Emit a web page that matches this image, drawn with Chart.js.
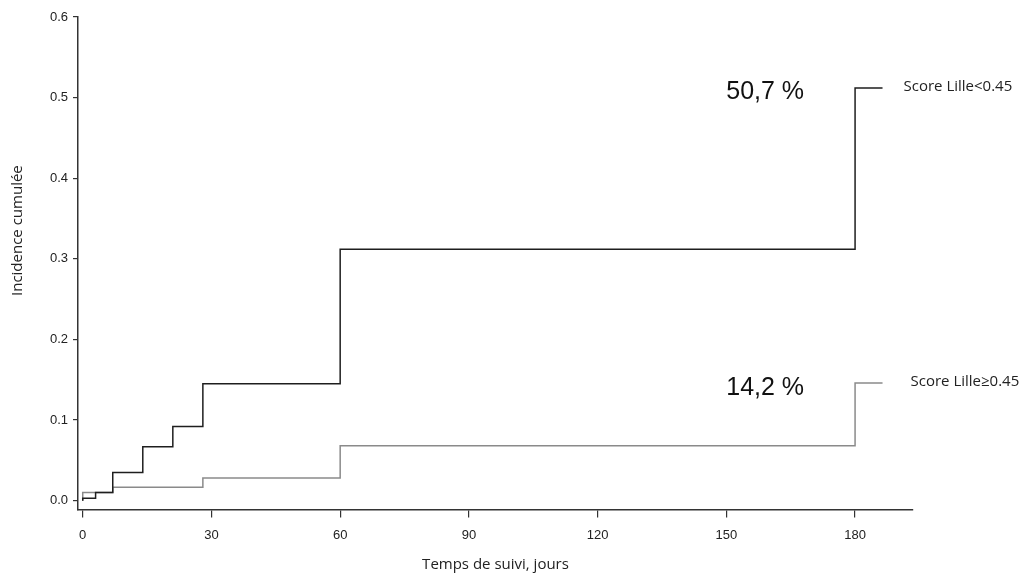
<!DOCTYPE html>
<html>
<head>
<meta charset="utf-8">
<script src="https://cdn.jsdelivr.net/npm/chart.js@4"></script>
<style>
  html, body { margin: 0; padding: 0; background: #fff; }
  #wrap { width: 1025px; height: 577px; }
</style>
</head>
<body>
<div id="wrap"><canvas id="incidenceChart" width="1025" height="577"></canvas></div>
<script>
// Cumulative incidence by Lille score (step curves)
const lowDays = [0, 0, 3, 7, 14, 21, 28, 60, 180, 186.4];
const lowValues = [0, 0.003, 0.010, 0.035, 0.067, 0.092, 0.145, 0.312, 0.512, 0.512];
const highDays = [0, 0, 7, 28, 60, 180, 186.4];
const highValues = [0, 0.010, 0.0165, 0.028, 0.068, 0.146, 0.146];

const seriesNames = ['Score Lille<0.45', 'Score Lille\u22650.45'];
const percentLabels = ['50,7 %', '14,2 %'];
const xTicks = [0, 30, 60, 90, 120, 150, 180];
const yTicks = [0, 0.1, 0.2, 0.3, 0.4, 0.5, 0.6];
const yTitle = 'Incidence cumulée';

function toPoints(xs, ys) {
  return xs.map((x, i) => ({ x: x, y: ys[i] }));
}

// end-of-curve labels (series name + percentage) and y axis title
const endLabels = {
  id: 'endLabels',
  afterDatasetsDraw(chart) {
    const ctx = chart.ctx;
    const xs = chart.scales.x, ys = chart.scales.y;
    const nameOffset = [21, 28];
    const pctDy = [4, 5];
    ctx.save();
    chart.data.datasets.forEach((ds, i) => {
      const last = ds.data[ds.data.length - 1];
      const px = xs.getPixelForValue(last.x);
      const py = ys.getPixelForValue(last.y);
      ctx.fillStyle = '#222';
      ctx.textBaseline = 'middle';
      ctx.textAlign = 'left';
      ctx.font = '15px "Open Sans"';
      ctx.fillText(seriesNames[i], px + nameOffset[i], py - 1);
      ctx.textAlign = 'right';
      ctx.font = '25px "Liberation Sans"';
      ctx.fillStyle = '#111';
      ctx.fillText(percentLabels[i], xs.getPixelForValue(180) - 51, py + pctDy[i]);
    });
    // y title, placed a bit above the middle like the original
    ctx.translate(18, ys.getPixelForValue(0.335));
    ctx.rotate(-Math.PI / 2);
    ctx.textAlign = 'center';
    ctx.textBaseline = 'middle';
    ctx.font = '15px "Open Sans"';
    ctx.fillStyle = '#222';
    ctx.fillText(yTitle, 0, 0);
    ctx.restore();
  }
};

const ctx = document.getElementById('incidenceChart').getContext('2d');
new Chart(ctx, {
  type: 'line',
  data: {
    datasets: [
      {
        label: seriesNames[0],
        data: toPoints(lowDays, lowValues),
        borderColor: '#1e1e1e',
        borderWidth: 1.5,
        stepped: 'before',
        pointRadius: 0,
        fill: false
      },
      {
        label: seriesNames[1],
        data: toPoints(highDays, highValues),
        borderColor: '#8a8a8a',
        borderWidth: 1.5,
        stepped: 'before',
        pointRadius: 0,
        fill: false
      }
    ]
  },
  options: {
    responsive: false,
    animation: false,
    layout: { padding: { top: 17, right: 112, left: 0, bottom: 0 } },
    plugins: {
      legend: { display: false },
      tooltip: { enabled: false }
    },
    scales: {
      x: {
        type: 'linear',
        min: -1.1,
        max: 193.5,
        afterBuildTicks: (scale) => { scale.ticks = xTicks.map(v => ({ value: v })); },
        afterFit: (scale) => { scale.height = 67.5; },
        grid: { drawOnChartArea: false, drawTicks: true, tickLength: 8, color: '#333', lineWidth: 1.2 },
        border: { color: '#333', width: 1.5 },
        ticks: { color: '#222', font: { family: 'Liberation Sans', size: 13 }, padding: 10, maxRotation: 0 },
        title: { display: true, text: 'Temps de suivi, jours', color: '#222', font: { family: 'Open Sans', size: 15 }, padding: { top: 4, bottom: 3 } }
      },
      y: {
        type: 'linear',
        min: -0.011,
        max: 0.6,
        afterBuildTicks: (scale) => { scale.ticks = yTicks.map(v => ({ value: v })); },
        afterFit: (scale) => { scale.width = 78; },
        grid: { drawOnChartArea: false, drawTicks: true, tickLength: 5, color: '#333', lineWidth: 1.2 },
        border: { color: '#333', width: 1.5 },
        ticks: { color: '#222', font: { family: 'Liberation Sans', size: 13 }, padding: 5, callback: (v) => v.toFixed(1) },
        title: { display: false }
      }
    }
  },
  plugins: [endLabels]
});
</script>
</body>
</html>
